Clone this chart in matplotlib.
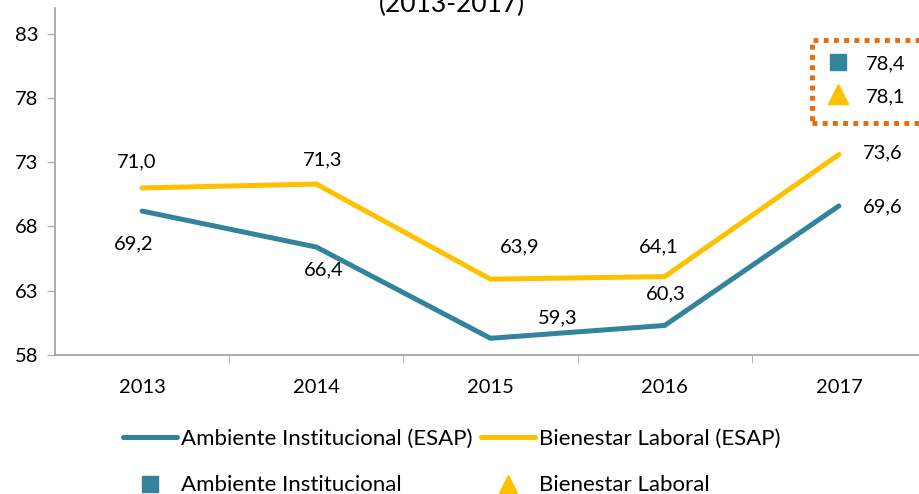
import matplotlib
matplotlib.use("Agg")
import matplotlib.pyplot as plt
from matplotlib.lines import Line2D
from matplotlib.patches import Rectangle

years = ["2013", "2014", "2015", "2016", "2017"]
ambiente = [69.2, 66.4, 59.3, 60.3, 69.6]
bienestar = [71.0, 71.3, 63.9, 64.1, 73.6]
sector_vals = [78.4, 78.1]  # valores del recuadro
y_ticks = [58, 63, 68, 73, 78, 83]

TEAL = "#31849B"
YELLOW = "#FFC000"
ORANGE = "#E46C0A"

plt.rcParams["font.family"] = ["Lato", "DejaVu Sans"]
FS = 14.5


def fmt(v):
    return f"{v:.1f}".replace(".", ",")


W, H = 919, 494
fig = plt.figure(figsize=(W / 100, H / 100), dpi=100)
# ejes: x de 55 a 926 px, y de 8 a 355 px (parte recortada a la derecha)
ax = fig.add_axes([55 / W, 1 - 355 / H, (926 - 55) / W, (355 - 8) / H])

x = list(range(len(years)))
ax.plot(x, ambiente, color=TEAL, lw=3.6, solid_capstyle="round", solid_joinstyle="miter",
        label="Ambiente Institucional (ESAP)")
ax.plot(x, bienestar, color=YELLOW, lw=3.6, solid_capstyle="round", solid_joinstyle="miter",
        label="Bienestar Laboral (ESAP)")

ax.set_xlim(-0.5, len(years) - 0.5)
ax.set_ylim(58, 85)
ax.set_yticks(y_ticks)
ax.set_yticklabels([str(t) for t in y_ticks], fontsize=FS)
ax.set_xticks(x)
ax.set_xticklabels(years, fontsize=FS)
ax.set_xticks([i + 0.5 for i in x[:-1]], minor=True)
ax.tick_params(axis="x", which="major", length=0, pad=17)
ax.tick_params(axis="x", which="minor", length=6, color="#A6A6A6")
ax.tick_params(axis="y", length=6, color="#A6A6A6", pad=6)
for s in ["top", "right"]:
    ax.spines[s].set_visible(False)
for s in ["left", "bottom"]:
    ax.spines[s].set_color("#A6A6A6")
    ax.spines[s].set_linewidth(1.3)

# desplazamientos de las etiquetas (px)
off_b = [(-5, 26), (6, 24), (29, 32), (-6, 30), (44, 2)]
off_a = [(-8, -33), (7, -23), (67, 20), (1, 32), (44, -1)]
k = 0.72
for i in x:
    ax.annotate(fmt(bienestar[i]), (i, bienestar[i]),
                xytext=(off_b[i][0] * k, off_b[i][1] * k), textcoords="offset points",
                ha="center", va="center", fontsize=FS)
    ax.annotate(fmt(ambiente[i]), (i, ambiente[i]),
                xytext=(off_a[i][0] * k, off_a[i][1] * k), textcoords="offset points",
                ha="center", va="center", fontsize=FS)

# titulo (recortado arriba, como en el original)
fig.text(452 / W, 1 - 12 / H, "(2013-2017)", ha="center", va="baseline", fontsize=19)

# recuadro punteado con valores de referencia
box = Rectangle((812 / W, 1 - 123 / H), 140 / W, 83 / H, transform=fig.transFigure,
                fill=False, edgecolor=ORANGE, lw=3.5, linestyle=(0, (1, 1.1)))
fig.add_artist(box)
fig.add_artist(Line2D([838 / W], [1 - 62 / H], marker="s", markersize=12,
                      color=TEAL, transform=fig.transFigure, linestyle="none"))
fig.add_artist(Line2D([838 / W], [1 - 94 / H], marker="^", markersize=15,
                      color=YELLOW, transform=fig.transFigure, linestyle="none"))
fig.text(866 / W, 1 - 64 / H, fmt(sector_vals[0]), ha="left", va="center", fontsize=FS)
fig.text(866 / W, 1 - 97 / H, fmt(sector_vals[1]), ha="left", va="center", fontsize=FS)

handles = [
    Line2D([], [], color=TEAL, lw=3.6, solid_capstyle="round"),
    Line2D([], [], color=TEAL, marker="s", markersize=12, linestyle="none"),
    Line2D([], [], color=YELLOW, lw=3.6, solid_capstyle="round"),
    Line2D([], [], color=YELLOW, marker="^", markersize=13, linestyle="none"),
]
labels = ["Ambiente Institucional (ESAP)", "Ambiente Institucional",
          "Bienestar Laboral (ESAP)", "Bienestar Laboral"]
fig.legend(handles, labels, loc="center", bbox_to_anchor=(452 / W, 1 - 462 / H),
           ncol=2, frameon=False, fontsize=16, handlelength=2.4, handletextpad=0.2,
           columnspacing=0.4, labelspacing=1.2)

fig.savefig("out.png", dpi=100)
